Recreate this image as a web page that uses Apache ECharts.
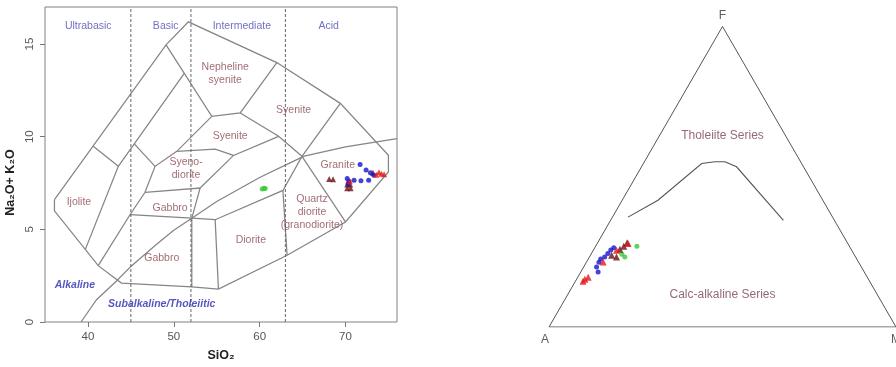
<!DOCTYPE html>
<html>
<head>
<meta charset="utf-8">
<script src="https://cdn.jsdelivr.net/npm/echarts@6/dist/echarts.min.js"></script>
<style>
  html, body { margin: 0; padding: 0; background: #fff; }
  #chart { width: 896px; height: 367px; }
</style>
</head>
<body>
<div id="chart"></div>
<script>
// ---------- TAS diagram (SiO2 vs Na2O+K2O, wt%) ----------
const tasTicksX = [40, 50, 60, 70];
const tasTicksY = [0, 5, 10, 15];
const silicaDividers = [45, 52, 63];

// sample groups: [SiO2, Na2O+K2O]
const tasBlue = [[71.7, 8.5], [72.4, 8.2], [72.9, 8.05], [73.3, 7.92], [70.2, 7.75],
                 [70.4, 7.6], [71.0, 7.65], [71.8, 7.62], [72.7, 7.65], [70.3, 7.45]];
const tasRed = [[73.6, 7.95], [73.9, 8.08], [74.2, 8.0], [74.5, 7.98], [70.5, 7.6]];
const tasBrown = [[68.1, 7.72], [68.55, 7.7], [70.2, 7.42], [70.55, 7.42],
                  [70.2, 7.22], [70.6, 7.22], [73.2, 8.05]];
const tasGreen = [[60.3, 7.18], [60.5, 7.22], [60.65, 7.2]];

// plutonic classification field boundaries
const fieldOutline = [[36.1, 6.6], [49.1, 14.96], [51.7, 16.2], [62.0, 14.0], [69.4, 11.8],
  [75.0, 9.0], [75.0, 8.1], [70.0, 5.4], [63.2, 3.6], [55.2, 1.78], [52.1, 1.89],
  [43.9, 2.1], [41.2, 3.04], [36.1, 6.0], [36.1, 6.6]];
const fieldEdges = [
  [[40.62, 9.48], [43.54, 8.40]],
  [[39.7, 3.92], [43.54, 8.40], [45.4, 9.61], [51.2, 13.4]],
  [[45.4, 9.61], [47.82, 8.40]],
  [[41.2, 3.04], [44.9, 5.79], [46.65, 7.0], [47.82, 8.40], [50.35, 9.21], [54.43, 11.10]],
  [[49.1, 14.96], [54.43, 11.10], [57.74, 11.28], [62.0, 14.0]],
  [[57.74, 11.28], [62.21, 10.02], [64.93, 8.94]],
  [[50.35, 9.21], [54.82, 9.33], [56.96, 8.99]],
  [[53.07, 7.23], [56.96, 8.99], [62.21, 10.02]],
  [[46.65, 7.0], [53.07, 7.23], [52.1, 5.61]],
  [[44.9, 5.79], [52.1, 5.61], [54.82, 5.52], [62.71, 7.10], [64.93, 8.94], [69.4, 11.8]],
  [[52.1, 5.61], [52.1, 1.89]],
  [[54.82, 5.52], [55.2, 1.78]],
  [[62.71, 7.10], [63.2, 3.6]],
  [[64.93, 8.94], [70.0, 5.4]]
];
// alkaline / subalkaline divide
const alkalineDivide = [[39.2, 0], [41, 1.2], [43.3, 2.2], [45, 3.0], [48, 4.2], [50, 4.95],
  [52.1, 5.6], [55, 6.5], [60, 7.8], [63.6, 8.6], [65.2, 8.95], [70, 9.45], [76, 9.9]];

// ---------- AFM diagram (A = Na2O+K2O, F = FeOt, M = MgO) ----------
const afmBlueA = [76.7, 76.3, 74.9, 73.8, 72.3, 70.8, 69.4, 68.2];
const afmBlueF = [18.3, 20.0, 21.6, 22.6, 23.3, 24.5, 25.6, 26.4];
const afmBlueM = [5.0, 3.7, 3.6, 3.6, 4.4, 4.7, 5.0, 5.5];
const afmRedA = [82.6, 80.5, 81.8, 73.6, 67.8, 63.3];
const afmRedF = [15.2, 16.6, 15.9, 21.6, 25.5, 27.8];
const afmRedM = [2.2, 3.0, 2.4, 4.8, 6.7, 8.9];
const afmBrownA = [68.9, 66.7, 65.0, 63.4, 70.0];
const afmBrownF = [23.3, 25.9, 26.9, 28.0, 23.9];
const afmBrownM = [7.8, 7.5, 8.1, 8.5, 6.1];
const afmGreenA = [61.3, 66.5, 66.9];
const afmGreenF = [26.9, 23.3, 24.2];
const afmGreenM = [11.9, 10.2, 8.9];
// tholeiitic / calc-alkaline boundary
const afmDivideA = [59.0, 47.5, 28.8, 24.7, 21.8, 19.3, 14.7];
const afmDivideF = [36.6, 42.2, 54.4, 55.0, 55.0, 53.3, 35.5];
const afmDivideM = [4.5, 10.3, 16.8, 20.3, 23.2, 27.4, 49.8];

// ternary (A, F, M) -> plane, A at origin, M at (1,0), F at apex
const H = Math.sqrt(3) / 2;
function ternary(a, f, m) {
  const s = a + f + m;
  return [(m + f / 2) / s, (f / s) * H];
}
function ternaryList(A, F, M) {
  return A.map((a, i) => ternary(a, F[i], M[i]));
}

// ---------- annotations ----------
const sans = 'Liberation Sans, Arial, Helvetica, sans-serif';
const fieldColor = '#8a4850';
const classColor = '#4b4bb0';
const seriesColor = '#2c2cb0';
const fieldLabels = [
  ['Nepheline\nsyenite', 55.99, 13.43],
  ['Syenite', 63.96, 11.46],
  ['Syenite', 56.57, 10.02],
  ['Syeno-\ndiorite', 51.43, 8.26],
  ['Ijolite', 38.95, 6.46],
  ['Gabbro', 49.57, 6.15],
  ['Gabbro', 48.6, 3.45],
  ['Diorite', 58.98, 4.44],
  ['Quartz\ndiorite\n(granodiorite)', 66.1, 5.94],
  ['Granite', 69.1, 8.49]
];
const classLabels = [
  ['Ultrabasic', 40.04, 15.95],
  ['Basic', 49.06, 15.95],
  ['Intermediate', 57.93, 15.95],
  ['Acid', 68.04, 15.95]
];
const seriesLabels = [
  ['Alkaline', 38.48, 1.98],
  ['Subalkaline/Tholeiitic', 48.6, 0.99]
];

function textSeries(items, xi, style) {
  return {
    type: 'scatter', xAxisIndex: xi, yAxisIndex: xi, symbolSize: 0, silent: true, z: 5,
    data: items.map(t => ({ name: t[0], value: [t[1], t[2]] })),
    label: Object.assign({ show: true, position: 'inside', formatter: '{b}', fontFamily: sans }, style)
  };
}

const greyLine = { color: '#858585', width: 1.25, opacity: 1 };

const option = {
  backgroundColor: '#ffffff',
  animation: false,
  grid: [
    { left: 45, top: 7, width: 352, height: 315, show: true, borderColor: '#808080', borderWidth: 1 },
    { left: 549, top: 26.5, width: 347, height: 300.5 }
  ],
  xAxis: [
    {
      type: 'value', gridIndex: 0, min: 35, max: 76,
      splitLine: { show: false }, axisLine: { show: false },
      axisTick: { show: true, customValues: tasTicksX, length: 5, lineStyle: { color: '#777' } },
      axisLabel: { customValues: tasTicksX, color: '#555', fontSize: 11.5, margin: 9, fontFamily: sans },
      name: 'SiO\u2082', nameLocation: 'middle', nameGap: 27,
      nameTextStyle: { color: '#222', fontSize: 12.5, fontWeight: 'bold', fontFamily: sans }
    },
    { type: 'value', gridIndex: 1, min: 0, max: 1, show: false }
  ],
  yAxis: [
    {
      type: 'value', gridIndex: 0, min: 0, max: 17,
      splitLine: { show: false }, axisLine: { show: false },
      axisTick: { show: true, customValues: tasTicksY, length: 5, lineStyle: { color: '#777' } },
      axisLabel: { customValues: tasTicksY, color: '#555', fontSize: 11.5, margin: 9, rotate: 90, fontFamily: sans },
      name: 'Na\u2082O+ K\u2082O', nameLocation: 'middle', nameGap: 28, nameRotate: 90,
      nameTextStyle: { color: '#222', fontSize: 12.5, fontWeight: 'bold', fontFamily: sans, padding: [0, 36, 0, 0] }
    },
    { type: 'value', gridIndex: 1, min: 0, max: 0.866, show: false }
  ],
  series: [
    // field boundaries
    {
      type: 'lines', coordinateSystem: 'cartesian2d', xAxisIndex: 0, yAxisIndex: 0,
      polyline: true, silent: true, z: 2, lineStyle: greyLine,
      data: [fieldOutline].concat(fieldEdges).map(c => ({ coords: c }))
    },
    {
      type: 'lines', coordinateSystem: 'cartesian2d', xAxisIndex: 0, yAxisIndex: 0,
      polyline: true, silent: true, z: 2, lineStyle: greyLine,
      data: [{ coords: alkalineDivide }]
    },
    {
      type: 'lines', coordinateSystem: 'cartesian2d', xAxisIndex: 0, yAxisIndex: 0,
      polyline: true, silent: true, z: 3,
      lineStyle: { color: '#666', width: 1, type: [3, 2], opacity: 1 },
      data: silicaDividers.map(v => ({ coords: [[v, 0], [v, 17]] }))
    },
    textSeries(fieldLabels, 0, { color: fieldColor, fontSize: 10.5, lineHeight: 13 }),
    textSeries(classLabels, 0, { color: classColor, fontSize: 10.5 }),
    textSeries(seriesLabels, 0, { color: seriesColor, fontSize: 10.5, fontWeight: 'bold', fontStyle: 'italic' }),
    { type: 'scatter', xAxisIndex: 0, yAxisIndex: 0, z: 6, symbol: 'circle', symbolSize: 5,
      itemStyle: { color: '#36c936' }, data: tasGreen },
    { type: 'scatter', xAxisIndex: 0, yAxisIndex: 0, z: 6, symbol: 'triangle', symbolSize: 6,
      itemStyle: { color: '#6a1212' }, data: tasBrown },
    { type: 'scatter', xAxisIndex: 0, yAxisIndex: 0, z: 6, symbol: 'circle', symbolSize: 5,
      itemStyle: { color: '#1414cc' }, data: tasBlue },
    { type: 'scatter', xAxisIndex: 0, yAxisIndex: 0, z: 7, symbol: 'triangle', symbolSize: 6,
      itemStyle: { color: '#e3161c' }, data: tasRed },

    // AFM triangle
    {
      type: 'lines', coordinateSystem: 'cartesian2d', xAxisIndex: 1, yAxisIndex: 1,
      polyline: true, silent: true, z: 2, lineStyle: { color: '#555', width: 1, opacity: 1 },
      data: [{ coords: [ternary(100, 0, 0), ternary(0, 0, 100), ternary(0, 100, 0), ternary(100, 0, 0)] }]
    },
    {
      type: 'lines', coordinateSystem: 'cartesian2d', xAxisIndex: 1, yAxisIndex: 1,
      polyline: true, silent: true, z: 2, lineStyle: { color: '#555', width: 1.1, opacity: 1 },
      data: [{ coords: ternaryList(afmDivideA, afmDivideF, afmDivideM) }]
    },
    {
      type: 'scatter', xAxisIndex: 1, yAxisIndex: 1, symbolSize: 0, silent: true, z: 5,
      label: { show: true, position: 'inside', formatter: '{b}', fontFamily: sans, color: '#333', fontSize: 12 },
      data: [
        { name: 'A', value: ternary(100, 0, 0), label: { offset: [-4, 13] } },
        { name: 'F', value: ternary(0, 100, 0), label: { offset: [0, -11] } },
        { name: 'M', value: ternary(0, 0, 100), label: { offset: [0, 13] } }
      ]
    },
    textSeries([['Tholeiite Series', 0.5, 0.55], ['Calc-alkaline Series', 0.5, 0.094]], 1,
      { color: '#7a4450', fontSize: 12 }),
    { type: 'scatter', xAxisIndex: 1, yAxisIndex: 1, z: 6, symbol: 'circle', symbolSize: 5,
      itemStyle: { color: '#36c936' }, data: ternaryList(afmGreenA, afmGreenF, afmGreenM) },
    { type: 'scatter', xAxisIndex: 1, yAxisIndex: 1, z: 6, symbol: 'circle', symbolSize: 5,
      itemStyle: { color: '#1414cc' }, data: ternaryList(afmBlueA, afmBlueF, afmBlueM) },
    { type: 'scatter', xAxisIndex: 1, yAxisIndex: 1, z: 7, symbol: 'triangle', symbolSize: 7,
      itemStyle: { color: '#6a1212' }, data: ternaryList(afmBrownA, afmBrownF, afmBrownM) },
    { type: 'scatter', xAxisIndex: 1, yAxisIndex: 1, z: 7, symbol: 'triangle', symbolSize: 7,
      itemStyle: { color: '#e3161c' }, data: ternaryList(afmRedA, afmRedF, afmRedM) }
  ]
};

const chart = echarts.init(document.getElementById('chart'));
chart.setOption(option);
</script>
</body>
</html>
